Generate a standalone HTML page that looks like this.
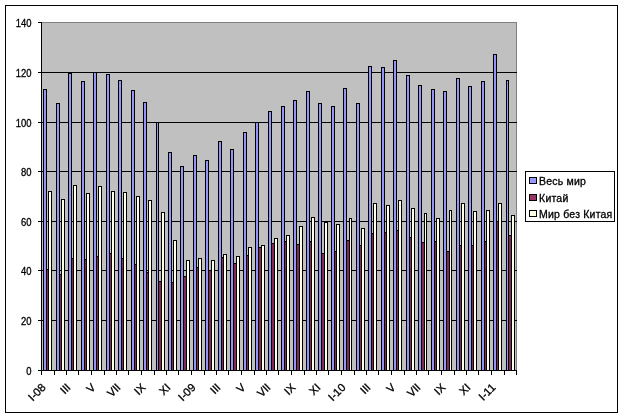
<!DOCTYPE html>
<html><head><meta charset="utf-8"><title>chart</title>
<style>
html,body{margin:0;padding:0;background:#fff;}
body{width:625px;height:419px;overflow:hidden;}
svg{display:block;}
.t{font-family:"Liberation Sans",sans-serif;font-size:10.5px;fill:#000;stroke:#000;stroke-width:0.3px;}
</style></head><body>
<svg width="625" height="419" viewBox="0 0 625 419" shape-rendering="crispEdges">
<rect x="0" y="0" width="625" height="419" fill="#fff"/>
<rect x="5.5" y="5.5" width="612" height="407" fill="#fff" stroke="#000" stroke-width="1"/>
<rect x="41.5" y="22.5" width="475.0" height="348.0" fill="#c0c0c0" stroke="#808080"/>
<line x1="41.5" x2="516.5" y1="320.5" y2="320.5" stroke="#000" stroke-width="1"/>
<line x1="41.5" x2="516.5" y1="270.5" y2="270.5" stroke="#000" stroke-width="1"/>
<line x1="41.5" x2="516.5" y1="221.5" y2="221.5" stroke="#000" stroke-width="1"/>
<line x1="41.5" x2="516.5" y1="171.5" y2="171.5" stroke="#000" stroke-width="1"/>
<line x1="41.5" x2="516.5" y1="122.5" y2="122.5" stroke="#000" stroke-width="1"/>
<line x1="41.5" x2="516.5" y1="72.5" y2="72.5" stroke="#000" stroke-width="1"/>
<rect x="43.5" y="89.5" width="3.0" height="281.0" fill="#9595f3" stroke="#000" stroke-width="1"/>
<rect x="46.5" y="269.5" width="2.0" height="101.0" fill="#822a58" stroke="#000" stroke-width="1"/>
<rect x="48.5" y="191.5" width="3.0" height="179.0" fill="#ffffea" stroke="#000" stroke-width="1"/>
<rect x="56.5" y="103.5" width="3.0" height="267.0" fill="#9595f3" stroke="#000" stroke-width="1"/>
<rect x="59.5" y="274.5" width="2.0" height="96.0" fill="#822a58" stroke="#000" stroke-width="1"/>
<rect x="61.5" y="199.5" width="3.0" height="171.0" fill="#ffffea" stroke="#000" stroke-width="1"/>
<rect x="68.5" y="73.5" width="3.0" height="297.0" fill="#9595f3" stroke="#000" stroke-width="1"/>
<rect x="71.5" y="258.5" width="2.0" height="112.0" fill="#822a58" stroke="#000" stroke-width="1"/>
<rect x="73.5" y="185.5" width="3.0" height="185.0" fill="#ffffea" stroke="#000" stroke-width="1"/>
<rect x="81.5" y="81.5" width="3.0" height="289.0" fill="#9595f3" stroke="#000" stroke-width="1"/>
<rect x="84.5" y="259.5" width="2.0" height="111.0" fill="#822a58" stroke="#000" stroke-width="1"/>
<rect x="86.5" y="193.5" width="3.0" height="177.0" fill="#ffffea" stroke="#000" stroke-width="1"/>
<rect x="93.5" y="72.5" width="3.0" height="298.0" fill="#9595f3" stroke="#000" stroke-width="1"/>
<rect x="96.5" y="256.5" width="2.0" height="114.0" fill="#822a58" stroke="#000" stroke-width="1"/>
<rect x="98.5" y="186.5" width="3.0" height="184.0" fill="#ffffea" stroke="#000" stroke-width="1"/>
<rect x="106.5" y="74.5" width="3.0" height="296.0" fill="#9595f3" stroke="#000" stroke-width="1"/>
<rect x="109.5" y="253.5" width="2.0" height="117.0" fill="#822a58" stroke="#000" stroke-width="1"/>
<rect x="111.5" y="191.5" width="3.0" height="179.0" fill="#ffffea" stroke="#000" stroke-width="1"/>
<rect x="118.5" y="80.5" width="3.0" height="290.0" fill="#9595f3" stroke="#000" stroke-width="1"/>
<rect x="121.5" y="258.5" width="2.0" height="112.0" fill="#822a58" stroke="#000" stroke-width="1"/>
<rect x="123.5" y="192.5" width="3.0" height="178.0" fill="#ffffea" stroke="#000" stroke-width="1"/>
<rect x="131.5" y="90.5" width="3.0" height="280.0" fill="#9595f3" stroke="#000" stroke-width="1"/>
<rect x="134.5" y="264.5" width="2.0" height="106.0" fill="#822a58" stroke="#000" stroke-width="1"/>
<rect x="136.5" y="196.5" width="3.0" height="174.0" fill="#ffffea" stroke="#000" stroke-width="1"/>
<rect x="143.5" y="102.5" width="3.0" height="268.0" fill="#9595f3" stroke="#000" stroke-width="1"/>
<rect x="146.5" y="272.5" width="2.0" height="98.0" fill="#822a58" stroke="#000" stroke-width="1"/>
<rect x="148.5" y="200.5" width="3.0" height="170.0" fill="#ffffea" stroke="#000" stroke-width="1"/>
<rect x="156.5" y="122.5" width="2.0" height="248.0" fill="#9595f3" stroke="#000" stroke-width="1"/>
<rect x="158.5" y="281.5" width="3.0" height="89.0" fill="#822a58" stroke="#000" stroke-width="1"/>
<rect x="161.5" y="212.5" width="3.0" height="158.0" fill="#ffffea" stroke="#000" stroke-width="1"/>
<rect x="168.5" y="152.5" width="3.0" height="218.0" fill="#9595f3" stroke="#000" stroke-width="1"/>
<rect x="171.5" y="282.5" width="2.0" height="88.0" fill="#822a58" stroke="#000" stroke-width="1"/>
<rect x="173.5" y="240.5" width="3.0" height="130.0" fill="#ffffea" stroke="#000" stroke-width="1"/>
<rect x="180.5" y="166.5" width="3.0" height="204.0" fill="#9595f3" stroke="#000" stroke-width="1"/>
<rect x="183.5" y="276.5" width="3.0" height="94.0" fill="#822a58" stroke="#000" stroke-width="1"/>
<rect x="186.5" y="260.5" width="3.0" height="110.0" fill="#ffffea" stroke="#000" stroke-width="1"/>
<rect x="193.5" y="155.5" width="3.0" height="215.0" fill="#9595f3" stroke="#000" stroke-width="1"/>
<rect x="196.5" y="267.5" width="2.0" height="103.0" fill="#822a58" stroke="#000" stroke-width="1"/>
<rect x="198.5" y="258.5" width="3.0" height="112.0" fill="#ffffea" stroke="#000" stroke-width="1"/>
<rect x="205.5" y="160.5" width="3.0" height="210.0" fill="#9595f3" stroke="#000" stroke-width="1"/>
<rect x="208.5" y="270.5" width="3.0" height="100.0" fill="#822a58" stroke="#000" stroke-width="1"/>
<rect x="211.5" y="260.5" width="3.0" height="110.0" fill="#ffffea" stroke="#000" stroke-width="1"/>
<rect x="218.5" y="141.5" width="3.0" height="229.0" fill="#9595f3" stroke="#000" stroke-width="1"/>
<rect x="221.5" y="257.5" width="2.0" height="113.0" fill="#822a58" stroke="#000" stroke-width="1"/>
<rect x="223.5" y="254.5" width="3.0" height="116.0" fill="#ffffea" stroke="#000" stroke-width="1"/>
<rect x="230.5" y="149.5" width="3.0" height="221.0" fill="#9595f3" stroke="#000" stroke-width="1"/>
<rect x="233.5" y="263.5" width="3.0" height="107.0" fill="#822a58" stroke="#000" stroke-width="1"/>
<rect x="236.5" y="256.5" width="3.0" height="114.0" fill="#ffffea" stroke="#000" stroke-width="1"/>
<rect x="243.5" y="132.5" width="3.0" height="238.0" fill="#9595f3" stroke="#000" stroke-width="1"/>
<rect x="246.5" y="255.5" width="2.0" height="115.0" fill="#822a58" stroke="#000" stroke-width="1"/>
<rect x="248.5" y="247.5" width="3.0" height="123.0" fill="#ffffea" stroke="#000" stroke-width="1"/>
<rect x="255.5" y="122.5" width="3.0" height="248.0" fill="#9595f3" stroke="#000" stroke-width="1"/>
<rect x="258.5" y="247.5" width="3.0" height="123.0" fill="#822a58" stroke="#000" stroke-width="1"/>
<rect x="261.5" y="245.5" width="3.0" height="125.0" fill="#ffffea" stroke="#000" stroke-width="1"/>
<rect x="268.5" y="111.5" width="3.0" height="259.0" fill="#9595f3" stroke="#000" stroke-width="1"/>
<rect x="271.5" y="243.5" width="3.0" height="127.0" fill="#822a58" stroke="#000" stroke-width="1"/>
<rect x="274.5" y="238.5" width="3.0" height="132.0" fill="#ffffea" stroke="#000" stroke-width="1"/>
<rect x="281.5" y="106.5" width="3.0" height="264.0" fill="#9595f3" stroke="#000" stroke-width="1"/>
<rect x="284.5" y="241.5" width="2.0" height="129.0" fill="#822a58" stroke="#000" stroke-width="1"/>
<rect x="286.5" y="235.5" width="3.0" height="135.0" fill="#ffffea" stroke="#000" stroke-width="1"/>
<rect x="293.5" y="100.5" width="3.0" height="270.0" fill="#9595f3" stroke="#000" stroke-width="1"/>
<rect x="296.5" y="244.5" width="3.0" height="126.0" fill="#822a58" stroke="#000" stroke-width="1"/>
<rect x="299.5" y="226.5" width="3.0" height="144.0" fill="#ffffea" stroke="#000" stroke-width="1"/>
<rect x="306.5" y="91.5" width="3.0" height="279.0" fill="#9595f3" stroke="#000" stroke-width="1"/>
<rect x="309.5" y="241.5" width="2.0" height="129.0" fill="#822a58" stroke="#000" stroke-width="1"/>
<rect x="311.5" y="217.5" width="3.0" height="153.0" fill="#ffffea" stroke="#000" stroke-width="1"/>
<rect x="318.5" y="103.5" width="3.0" height="267.0" fill="#9595f3" stroke="#000" stroke-width="1"/>
<rect x="321.5" y="253.5" width="3.0" height="117.0" fill="#822a58" stroke="#000" stroke-width="1"/>
<rect x="324.5" y="222.5" width="3.0" height="148.0" fill="#ffffea" stroke="#000" stroke-width="1"/>
<rect x="331.5" y="106.5" width="3.0" height="264.0" fill="#9595f3" stroke="#000" stroke-width="1"/>
<rect x="334.5" y="251.5" width="2.0" height="119.0" fill="#822a58" stroke="#000" stroke-width="1"/>
<rect x="336.5" y="224.5" width="3.0" height="146.0" fill="#ffffea" stroke="#000" stroke-width="1"/>
<rect x="343.5" y="88.5" width="3.0" height="282.0" fill="#9595f3" stroke="#000" stroke-width="1"/>
<rect x="346.5" y="240.5" width="3.0" height="130.0" fill="#822a58" stroke="#000" stroke-width="1"/>
<rect x="349.5" y="218.5" width="2.0" height="152.0" fill="#ffffea" stroke="#000" stroke-width="1"/>
<rect x="356.5" y="103.5" width="3.0" height="267.0" fill="#9595f3" stroke="#000" stroke-width="1"/>
<rect x="359.5" y="245.5" width="2.0" height="125.0" fill="#822a58" stroke="#000" stroke-width="1"/>
<rect x="361.5" y="228.5" width="3.0" height="142.0" fill="#ffffea" stroke="#000" stroke-width="1"/>
<rect x="368.5" y="66.5" width="3.0" height="304.0" fill="#9595f3" stroke="#000" stroke-width="1"/>
<rect x="371.5" y="233.5" width="2.0" height="137.0" fill="#822a58" stroke="#000" stroke-width="1"/>
<rect x="373.5" y="203.5" width="3.0" height="167.0" fill="#ffffea" stroke="#000" stroke-width="1"/>
<rect x="381.5" y="67.5" width="3.0" height="303.0" fill="#9595f3" stroke="#000" stroke-width="1"/>
<rect x="384.5" y="232.5" width="2.0" height="138.0" fill="#822a58" stroke="#000" stroke-width="1"/>
<rect x="386.5" y="205.5" width="3.0" height="165.0" fill="#ffffea" stroke="#000" stroke-width="1"/>
<rect x="393.5" y="60.5" width="3.0" height="310.0" fill="#9595f3" stroke="#000" stroke-width="1"/>
<rect x="396.5" y="230.5" width="2.0" height="140.0" fill="#822a58" stroke="#000" stroke-width="1"/>
<rect x="398.5" y="200.5" width="3.0" height="170.0" fill="#ffffea" stroke="#000" stroke-width="1"/>
<rect x="406.5" y="75.5" width="3.0" height="295.0" fill="#9595f3" stroke="#000" stroke-width="1"/>
<rect x="409.5" y="237.5" width="2.0" height="133.0" fill="#822a58" stroke="#000" stroke-width="1"/>
<rect x="411.5" y="208.5" width="3.0" height="162.0" fill="#ffffea" stroke="#000" stroke-width="1"/>
<rect x="418.5" y="85.5" width="3.0" height="285.0" fill="#9595f3" stroke="#000" stroke-width="1"/>
<rect x="421.5" y="242.5" width="3.0" height="128.0" fill="#822a58" stroke="#000" stroke-width="1"/>
<rect x="424.5" y="213.5" width="2.0" height="157.0" fill="#ffffea" stroke="#000" stroke-width="1"/>
<rect x="431.5" y="89.5" width="3.0" height="281.0" fill="#9595f3" stroke="#000" stroke-width="1"/>
<rect x="434.5" y="241.5" width="2.0" height="129.0" fill="#822a58" stroke="#000" stroke-width="1"/>
<rect x="436.5" y="218.5" width="3.0" height="152.0" fill="#ffffea" stroke="#000" stroke-width="1"/>
<rect x="443.5" y="91.5" width="3.0" height="279.0" fill="#9595f3" stroke="#000" stroke-width="1"/>
<rect x="446.5" y="251.5" width="3.0" height="119.0" fill="#822a58" stroke="#000" stroke-width="1"/>
<rect x="449.5" y="210.5" width="2.0" height="160.0" fill="#ffffea" stroke="#000" stroke-width="1"/>
<rect x="456.5" y="78.5" width="3.0" height="292.0" fill="#9595f3" stroke="#000" stroke-width="1"/>
<rect x="459.5" y="245.5" width="2.0" height="125.0" fill="#822a58" stroke="#000" stroke-width="1"/>
<rect x="461.5" y="203.5" width="3.0" height="167.0" fill="#ffffea" stroke="#000" stroke-width="1"/>
<rect x="468.5" y="86.5" width="3.0" height="284.0" fill="#9595f3" stroke="#000" stroke-width="1"/>
<rect x="471.5" y="245.5" width="2.0" height="125.0" fill="#822a58" stroke="#000" stroke-width="1"/>
<rect x="473.5" y="211.5" width="3.0" height="159.0" fill="#ffffea" stroke="#000" stroke-width="1"/>
<rect x="481.5" y="81.5" width="3.0" height="289.0" fill="#9595f3" stroke="#000" stroke-width="1"/>
<rect x="484.5" y="241.5" width="2.0" height="129.0" fill="#822a58" stroke="#000" stroke-width="1"/>
<rect x="486.5" y="210.5" width="3.0" height="160.0" fill="#ffffea" stroke="#000" stroke-width="1"/>
<rect x="493.5" y="54.5" width="3.0" height="316.0" fill="#9595f3" stroke="#000" stroke-width="1"/>
<rect x="496.5" y="221.5" width="2.0" height="149.0" fill="#822a58" stroke="#000" stroke-width="1"/>
<rect x="498.5" y="203.5" width="3.0" height="167.0" fill="#ffffea" stroke="#000" stroke-width="1"/>
<rect x="506.5" y="80.5" width="2.0" height="290.0" fill="#9595f3" stroke="#000" stroke-width="1"/>
<rect x="508.5" y="235.5" width="3.0" height="135.0" fill="#822a58" stroke="#000" stroke-width="1"/>
<rect x="511.5" y="215.5" width="3.0" height="155.0" fill="#ffffea" stroke="#000" stroke-width="1"/>
<line x1="41.5" x2="41.5" y1="22.5" y2="371.0" stroke="#000"/>
<line x1="41.0" x2="516.5" y1="370.5" y2="370.5" stroke="#000"/>
<line x1="38.0" x2="41.5" y1="370.5" y2="370.5" stroke="#000"/>
<text transform="translate(31.4,375.0) scale(0.9,1)" text-anchor="end" class="t">0</text>
<line x1="38.0" x2="41.5" y1="320.5" y2="320.5" stroke="#000"/>
<text transform="translate(31.4,325.0) scale(0.9,1)" text-anchor="end" class="t">20</text>
<line x1="38.0" x2="41.5" y1="270.5" y2="270.5" stroke="#000"/>
<text transform="translate(31.4,275.0) scale(0.9,1)" text-anchor="end" class="t">40</text>
<line x1="38.0" x2="41.5" y1="221.5" y2="221.5" stroke="#000"/>
<text transform="translate(31.4,226.0) scale(0.9,1)" text-anchor="end" class="t">60</text>
<line x1="38.0" x2="41.5" y1="171.5" y2="171.5" stroke="#000"/>
<text transform="translate(31.4,176.0) scale(0.9,1)" text-anchor="end" class="t">80</text>
<line x1="38.0" x2="41.5" y1="122.5" y2="122.5" stroke="#000"/>
<text transform="translate(31.4,127.0) scale(0.9,1)" text-anchor="end" class="t">100</text>
<line x1="38.0" x2="41.5" y1="72.5" y2="72.5" stroke="#000"/>
<text transform="translate(31.4,77.0) scale(0.9,1)" text-anchor="end" class="t">120</text>
<line x1="38.0" x2="41.5" y1="22.5" y2="22.5" stroke="#000"/>
<text transform="translate(31.4,27.0) scale(0.9,1)" text-anchor="end" class="t">140</text>
<line x1="41.5" x2="41.5" y1="370.5" y2="375.0" stroke="#000"/>
<line x1="54.5" x2="54.5" y1="370.5" y2="375.0" stroke="#000"/>
<line x1="66.5" x2="66.5" y1="370.5" y2="375.0" stroke="#000"/>
<line x1="78.5" x2="78.5" y1="370.5" y2="375.0" stroke="#000"/>
<line x1="91.5" x2="91.5" y1="370.5" y2="375.0" stroke="#000"/>
<line x1="104.5" x2="104.5" y1="370.5" y2="375.0" stroke="#000"/>
<line x1="116.5" x2="116.5" y1="370.5" y2="375.0" stroke="#000"/>
<line x1="128.5" x2="128.5" y1="370.5" y2="375.0" stroke="#000"/>
<line x1="141.5" x2="141.5" y1="370.5" y2="375.0" stroke="#000"/>
<line x1="154.5" x2="154.5" y1="370.5" y2="375.0" stroke="#000"/>
<line x1="166.5" x2="166.5" y1="370.5" y2="375.0" stroke="#000"/>
<line x1="178.5" x2="178.5" y1="370.5" y2="375.0" stroke="#000"/>
<line x1="191.5" x2="191.5" y1="370.5" y2="375.0" stroke="#000"/>
<line x1="204.5" x2="204.5" y1="370.5" y2="375.0" stroke="#000"/>
<line x1="216.5" x2="216.5" y1="370.5" y2="375.0" stroke="#000"/>
<line x1="228.5" x2="228.5" y1="370.5" y2="375.0" stroke="#000"/>
<line x1="241.5" x2="241.5" y1="370.5" y2="375.0" stroke="#000"/>
<line x1="254.5" x2="254.5" y1="370.5" y2="375.0" stroke="#000"/>
<line x1="266.5" x2="266.5" y1="370.5" y2="375.0" stroke="#000"/>
<line x1="278.5" x2="278.5" y1="370.5" y2="375.0" stroke="#000"/>
<line x1="291.5" x2="291.5" y1="370.5" y2="375.0" stroke="#000"/>
<line x1="304.5" x2="304.5" y1="370.5" y2="375.0" stroke="#000"/>
<line x1="316.5" x2="316.5" y1="370.5" y2="375.0" stroke="#000"/>
<line x1="328.5" x2="328.5" y1="370.5" y2="375.0" stroke="#000"/>
<line x1="341.5" x2="341.5" y1="370.5" y2="375.0" stroke="#000"/>
<line x1="354.5" x2="354.5" y1="370.5" y2="375.0" stroke="#000"/>
<line x1="366.5" x2="366.5" y1="370.5" y2="375.0" stroke="#000"/>
<line x1="378.5" x2="378.5" y1="370.5" y2="375.0" stroke="#000"/>
<line x1="391.5" x2="391.5" y1="370.5" y2="375.0" stroke="#000"/>
<line x1="404.5" x2="404.5" y1="370.5" y2="375.0" stroke="#000"/>
<line x1="416.5" x2="416.5" y1="370.5" y2="375.0" stroke="#000"/>
<line x1="428.5" x2="428.5" y1="370.5" y2="375.0" stroke="#000"/>
<line x1="441.5" x2="441.5" y1="370.5" y2="375.0" stroke="#000"/>
<line x1="454.5" x2="454.5" y1="370.5" y2="375.0" stroke="#000"/>
<line x1="466.5" x2="466.5" y1="370.5" y2="375.0" stroke="#000"/>
<line x1="478.5" x2="478.5" y1="370.5" y2="375.0" stroke="#000"/>
<line x1="491.5" x2="491.5" y1="370.5" y2="375.0" stroke="#000"/>
<line x1="504.5" x2="504.5" y1="370.5" y2="375.0" stroke="#000"/>
<line x1="516.5" x2="516.5" y1="370.5" y2="375.0" stroke="#000"/>
<text transform="translate(43.85,385.70) rotate(-45)" text-anchor="end" class="t" style="font-size:11.2px" dy="3.5">I-08</text>
<text transform="translate(68.85,385.70) rotate(-45)" text-anchor="end" class="t" style="font-size:11.2px" dy="3.5">III</text>
<text transform="translate(93.85,385.70) rotate(-45)" text-anchor="end" class="t" style="font-size:11.2px" dy="3.5">V</text>
<text transform="translate(118.85,385.70) rotate(-45)" text-anchor="end" class="t" style="font-size:11.2px" dy="3.5">VII</text>
<text transform="translate(143.85,385.70) rotate(-45)" text-anchor="end" class="t" style="font-size:11.2px" dy="3.5">IX</text>
<text transform="translate(168.85,385.70) rotate(-45)" text-anchor="end" class="t" style="font-size:11.2px" dy="3.5">XI</text>
<text transform="translate(193.85,385.70) rotate(-45)" text-anchor="end" class="t" style="font-size:11.2px" dy="3.5">I-09</text>
<text transform="translate(218.85,385.70) rotate(-45)" text-anchor="end" class="t" style="font-size:11.2px" dy="3.5">III</text>
<text transform="translate(243.85,385.70) rotate(-45)" text-anchor="end" class="t" style="font-size:11.2px" dy="3.5">V</text>
<text transform="translate(268.85,385.70) rotate(-45)" text-anchor="end" class="t" style="font-size:11.2px" dy="3.5">VII</text>
<text transform="translate(293.85,385.70) rotate(-45)" text-anchor="end" class="t" style="font-size:11.2px" dy="3.5">IX</text>
<text transform="translate(318.85,385.70) rotate(-45)" text-anchor="end" class="t" style="font-size:11.2px" dy="3.5">XI</text>
<text transform="translate(343.85,385.70) rotate(-45)" text-anchor="end" class="t" style="font-size:11.2px" dy="3.5">I-10</text>
<text transform="translate(368.85,385.70) rotate(-45)" text-anchor="end" class="t" style="font-size:11.2px" dy="3.5">III</text>
<text transform="translate(393.85,385.70) rotate(-45)" text-anchor="end" class="t" style="font-size:11.2px" dy="3.5">V</text>
<text transform="translate(418.85,385.70) rotate(-45)" text-anchor="end" class="t" style="font-size:11.2px" dy="3.5">VII</text>
<text transform="translate(443.85,385.70) rotate(-45)" text-anchor="end" class="t" style="font-size:11.2px" dy="3.5">IX</text>
<text transform="translate(468.85,385.70) rotate(-45)" text-anchor="end" class="t" style="font-size:11.2px" dy="3.5">XI</text>
<text transform="translate(493.85,385.70) rotate(-45)" text-anchor="end" class="t" style="font-size:11.2px" dy="3.5">I-11</text>
<rect x="525.5" y="171.5" width="89" height="50" fill="#fff" stroke="#000"/>
<rect x="529.5" y="177.5" width="7" height="6" fill="#9999ff" stroke="#000"/>
<text x="539.1" y="185.0" class="t" style="letter-spacing:0.2px">Весь мир</text>
<rect x="529.5" y="194.0" width="7" height="6" fill="#993366" stroke="#000"/>
<text x="539.1" y="201.5" class="t" style="letter-spacing:0.2px">Китай</text>
<rect x="529.5" y="210.5" width="7" height="6" fill="#ffffea" stroke="#000"/>
<text x="539.1" y="218.0" class="t" style="letter-spacing:0.2px">Мир без Китая</text>
</svg>
</body></html>
